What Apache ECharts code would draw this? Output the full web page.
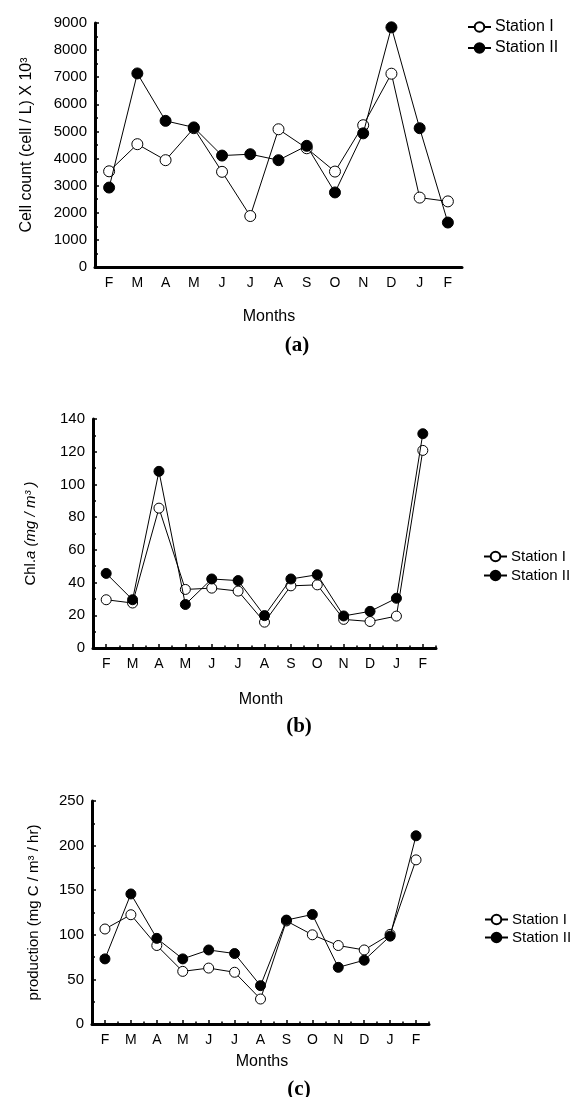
<!DOCTYPE html>
<html>
<head>
<meta charset="utf-8">
<title>Station I / Station II</title>
<script src="https://cdn.jsdelivr.net/npm/echarts@6/dist/echarts.min.js"></script>
<style>
html, body { margin: 0; padding: 0; background: #fff; }
#chart { width: 573px; height: 1097px; }
</style>
</head>
<body>
<div id="chart"></div>
<script>
// data
var months = ['F', 'M', 'A', 'M', 'J', 'J', 'A', 'S', 'O', 'N', 'D', 'J', 'F'];
var stationNames = ['Station I', 'Station II'];

var cellStation1 = [3530, 4530, 3940, 5120, 3510, 1880, 5080, 4380, 3520, 5230, 7130, 2560, 2420];
var cellStation2 = [2930, 7140, 5390, 5150, 4110, 4160, 3940, 4470, 2750, 4930, 8840, 5120, 1640];

var chlStation1 = [29.5, 27.5, 85.5, 35.8, 36.6, 34.8, 15.8, 38, 38.6, 17.5, 16.2, 19.5, 120.8];
var chlStation2 = [45.6, 29.5, 108, 26.6, 42.2, 41.2, 19.8, 42.2, 44.8, 19.6, 22.4, 30.4, 131];

var prodStation1 = [106.5, 122.5, 88, 59, 62.7, 58, 28, 115.5, 100, 88, 83, 100.5, 184];
var prodStation2 = [73, 145.8, 96, 73, 83, 79, 43, 116.5, 122.8, 63.5, 71.5, 98.5, 211];

var yMax = [9000, 140, 250];
var yStep = [1000, 20, 50];

var font = 'Liberation Sans, Arial, sans-serif';
var serif = 'Liberation Serif, Times New Roman, serif';

var grids = [
  { left: 95, top: 23, width: 367, height: 244 },
  { left: 93, top: 419, width: 343, height: 229 },
  { left: 92, top: 801, width: 337, height: 223 }
];

var yNames = [
  { name: 'Cell count (cell / L) X 10³', gap: 60, size: 16, rich: null },
  { name: 'Chl.{i|a (mg / m³ )}', gap: 55, size: 15, rich: { i: { fontStyle: 'italic', fontSize: 15, fontFamily: font, color: '#000' } } },
  { name: 'production (mg C / m³ / hr)', gap: 51, size: 15, rich: null }
];

var axisLine = { show: true, lineStyle: { color: '#000', width: 3 } };

var xAxes = [];
var yAxes = [];
for (var g = 0; g < 3; g++) {
  // labelled category axis, ticks on the month centres
  xAxes.push({
    type: 'category',
    gridIndex: g,
    position: 'bottom',
    data: months,
    boundaryGap: true,
    axisLine: axisLine,
    axisTick: { show: g > 0, inside: true, alignWithLabel: true, length: 4, lineStyle: { color: '#000', width: 1.5 } },
    axisLabel: { color: '#000', fontSize: 14, fontFamily: font, margin: 9, interval: 0 },
    splitLine: { show: false }
  });
  yAxes.push({
    type: 'value',
    gridIndex: g,
    min: 0,
    max: yMax[g],
    interval: yStep[g],
    name: yNames[g].name,
    nameLocation: 'middle',
    nameGap: yNames[g].gap,
    nameTextStyle: { color: '#000', fontSize: yNames[g].size, fontFamily: font, rich: yNames[g].rich || undefined },
    axisLine: axisLine,
    axisTick: { show: true, inside: true, length: 4, lineStyle: { color: '#000', width: 1.5 } },
    minorTick: { show: true, splitNumber: 2, length: 3, lineStyle: { color: '#000', width: 1.5 } },
    axisLabel: {
      color: '#000', fontSize: 15, fontFamily: font, margin: 8,
      formatter: function (v) { return String(v); }
    },
    splitLine: { show: false }
  });
}
// boundary ticks (between months) for panels b and c
for (var k = 1; k < 3; k++) {
  xAxes.push({
    type: 'category',
    gridIndex: k,
    position: 'bottom',
    data: months,
    boundaryGap: true,
    axisLine: { show: false },
    axisTick: { show: true, inside: true, length: 2.5, lineStyle: { color: '#000', width: 1.5 } },
    axisLabel: { show: false },
    splitLine: { show: false }
  });
}

function station(name, idx, values, filled, size) {
  return {
    name: name,
    type: 'line',
    xAxisIndex: idx,
    yAxisIndex: idx,
    data: values,
    symbol: 'circle',
    symbolSize: size,
    lineStyle: { color: '#000', width: 1 },
    itemStyle: { color: filled ? '#000' : '#fff', borderColor: '#000', borderWidth: 1 },
    z: filled ? 3 : 2
  };
}

var series = [
  station('Station I', 0, cellStation1, false, 11),
  station('Station II', 0, cellStation2, true, 11),
  station('Station I', 1, chlStation1, false, 10),
  station('Station II', 1, chlStation2, true, 10),
  station('Station I', 2, prodStation1, false, 10),
  station('Station II', 2, prodStation2, true, 10)
];

function legendAt(left, top, gap, size) {
  return {
    data: stationNames,
    orient: 'vertical',
    left: left,
    top: top,
    itemWidth: 23,
    itemHeight: 12,
    itemGap: gap,
    selectedMode: false,
    padding: [5, 0, 5, 5],
    textStyle: { color: '#000', fontSize: size, fontFamily: font, padding: [0, 0, 0, -1] }
  };
}

function label(text, x, y, size, bold, family) {
  return {
    type: 'text',
    x: x,
    y: y,
    style: {
      text: text,
      fill: '#000',
      font: (bold ? 'bold ' : '') + size + 'px ' + family,
      textAlign: 'center',
      textVerticalAlign: 'middle'
    }
  };
}

var chart = echarts.init(document.getElementById('chart'));
chart.setOption({
  animation: false,
  backgroundColor: '#fff',
  grid: grids,
  xAxis: xAxes,
  yAxis: yAxes,
  legend: [
    legendAt(462, 14, 5, 16),
    legendAt(478, 544, 4, 15),
    legendAt(479, 907, 3, 15)
  ],
  graphic: [
    label('Months', 269, 317, 16, false, font),
    label('(a)', 297, 346, 21, true, serif),
    label('Month', 261, 700, 16, false, font),
    label('(b)', 299, 727, 21, true, serif),
    label('Months', 262, 1062, 16, false, font),
    label('(c)', 299, 1090, 21, true, serif)
  ],
  series: series
});
</script>
</body>
</html>
